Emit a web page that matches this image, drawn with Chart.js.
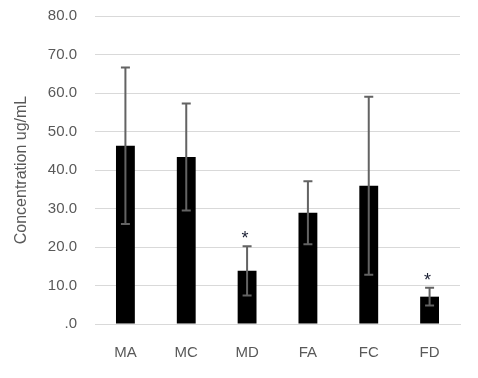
<!DOCTYPE html>
<html>
<head>
<meta charset="utf-8">
<script src="https://cdn.jsdelivr.net/npm/chart.js@4.4.1/dist/chart.umd.min.js"></script>
<style>
  html, body { margin: 0; padding: 0; background: #fff; }
  #wrap { width: 478px; height: 378px; }
</style>
</head>
<body>
<div id="wrap"><canvas id="grafico" width="478" height="378"></canvas></div>
<script>
// datos
const grupos = ['MA', 'MC', 'MD', 'FA', 'FC', 'FD'];
const medias = [46.3, 43.4, 13.8, 28.9, 35.9, 7.1];
const errores = [20.3, 13.9, 6.4, 8.2, 23.1, 2.3];
const asteriscos = ['', '', '*', '', '', '*'];
const ticksY = [0, 10, 20, 30, 40, 50, 60, 70, 80];

const gris = '#595959';
const fuente = 'Liberation Sans';

// barras de error y asteriscos
const errorBars = {
    id: 'errorBars',
    afterDatasetsDraw(chart) {
        const ctx = chart.ctx;
        const x = chart.scales.x;
        const y = chart.scales.y;
        ctx.save();
        ctx.strokeStyle = '#636363';
        ctx.lineWidth = 2;
        medias.forEach((m, i) => {
            const px = x.getPixelForValue(i);
            const top = y.getPixelForValue(m + errores[i]);
            const bot = y.getPixelForValue(m - errores[i]);
            ctx.beginPath();
            ctx.moveTo(px, top); ctx.lineTo(px, bot);
            ctx.moveTo(px - 4.5, top); ctx.lineTo(px + 4.5, top);
            ctx.moveTo(px - 4.5, bot); ctx.lineTo(px + 4.5, bot);
            ctx.stroke();
            if (asteriscos[i]) {
                ctx.fillStyle = '#1a1f33';
                ctx.font = '18px ' + fuente;
                ctx.textAlign = 'center';
                ctx.textBaseline = 'middle';
                ctx.fillText(asteriscos[i], px - 2, top - 7);
            }
        });
        ctx.restore();
    }
};

new Chart(document.getElementById('grafico').getContext('2d'), {
    type: 'bar',
    data: {
        labels: grupos,
        datasets: [{
            data: medias,
            backgroundColor: '#000000',
            borderWidth: 0,
            categoryPercentage: 1,
            barPercentage: 0.31
        }]
    },
    options: {
        responsive: false,
        animation: false,
        layout: { padding: { top: 16, right: 18, left: 0, bottom: 0 } },
        plugins: {
            legend: { display: false },
            tooltip: { enabled: false }
        },
        scales: {
            y: {
                min: 0,
                max: 80,
                afterBuildTicks: axis => { axis.ticks = ticksY.map(v => ({ value: v })); },
                afterFit: axis => { axis.width = 95; axis.paddingTop = 0; axis.paddingBottom = 0; },
                grid: { color: '#d9d9d9', lineWidth: 1, drawTicks: false },
                border: { display: false },
                ticks: {
                    padding: 18,
                    color: gris,
                    font: { family: fuente, size: 15 },
                    callback: v => v === 0 ? '.0' : v.toFixed(1)
                },
                title: {
                    display: true,
                    text: 'Concentration ug/mL',
                    color: gris,
                    font: { family: fuente, size: 16 },
                    padding: { top: 12, bottom: 0 }
                }
            },
            x: {
                afterFit: axis => { axis.height = 54; axis.paddingLeft = 0; axis.paddingRight = 0; },
                grid: { display: false, drawTicks: false },
                border: { display: true, color: '#d9d9d9', width: 1 },
                ticks: {
                    padding: 20,
                    color: gris,
                    font: { family: fuente, size: 15 }
                }
            }
        }
    },
    plugins: [errorBars]
});
</script>
</body>
</html>
